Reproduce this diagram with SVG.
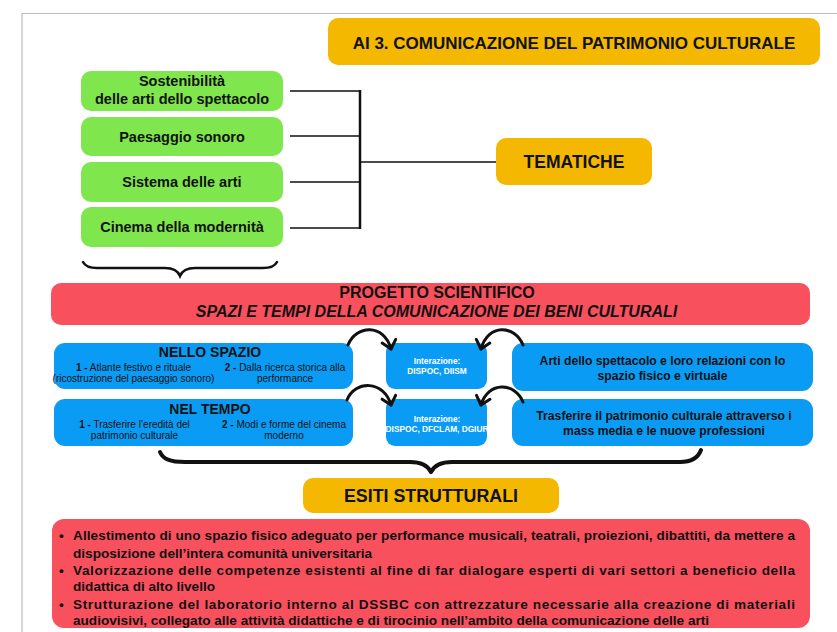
<svg xmlns="http://www.w3.org/2000/svg" width="837" height="632" viewBox="0 0 837 632">
<defs>
<style>
text{font-family:"Liberation Sans",Arial,sans-serif;fill:#111;}
.b{font-weight:bold;}
.org{fill:#F4B800;}
.grn{fill:#80E64E;}
.blu{fill:#0A9CF5;}
.red{fill:#F9505E;}
.ln{stroke:#111;fill:none;}
.arc{stroke:#111;fill:none;stroke-width:3;stroke-linecap:round;marker-end:url(#ah);}
.sm{font-size:10px;}
.wt{fill:#fff;font-weight:bold;font-size:8.3px;}
.bl{font-size:13.6px;font-weight:bold;}
</style>
<marker id="ah" viewBox="-10 -10 20 20" markerWidth="20" markerHeight="20" refX="0" refY="0" orient="auto" markerUnits="userSpaceOnUse">
<path d="M-8,-7 L0,0 L-8,7" fill="none" stroke="#111" stroke-width="3" stroke-linecap="round" stroke-linejoin="round"/>
</marker>
</defs>
<rect width="837" height="632" fill="#fff"/>
<path d="M22,632 L22,13.5 L837,13.5" fill="none" stroke="#bdbdbd" stroke-width="1.2"/>

<g id="title">
<rect class="org" x="328" y="18" width="492" height="47" rx="10"/>
<text class="b" x="574" y="49" font-size="17" text-anchor="middle">AI 3. COMUNICAZIONE DEL PATRIMONIO CULTURALE</text>
</g>

<g id="tema1">
<rect class="grn" x="81" y="71" width="202" height="40" rx="10"/>
<text class="b" x="182" y="86" font-size="14.5" text-anchor="middle">Sostenibilità</text>
<text class="b" x="182" y="104" font-size="14.5" text-anchor="middle">delle arti dello spettacolo</text>
</g>
<g id="tema2">
<rect class="grn" x="81" y="117" width="202" height="39" rx="10"/>
<text class="b" x="182" y="142" font-size="14.5" text-anchor="middle">Paesaggio sonoro</text>
</g>
<g id="tema3">
<rect class="grn" x="81" y="162" width="202" height="40" rx="10"/>
<text class="b" x="182" y="187" font-size="14.5" text-anchor="middle">Sistema delle arti</text>
</g>
<g id="tema4">
<rect class="grn" x="81" y="207" width="202" height="40" rx="10"/>
<text class="b" x="182" y="232" font-size="14.5" text-anchor="middle">Cinema della modernità</text>
</g>

<g id="tematiche">
<rect class="org" x="496" y="138" width="156" height="47" rx="10"/>
<text class="b" x="574" y="168" font-size="17.5" text-anchor="middle">TEMATICHE</text>
</g>

<g id="progetto">
<rect class="red" x="51" y="283" width="759" height="42" rx="10"/>
<text class="b" x="437" y="298" font-size="16" text-anchor="middle">PROGETTO SCIENTIFICO</text>
<text class="b" x="436.5" y="317" font-size="16" font-style="italic" text-anchor="middle">SPAZI E TEMPI DELLA COMUNICAZIONE DEI BENI CULTURALI</text>
</g>

<g id="nello-spazio">
<rect class="blu" x="54" y="343" width="299" height="46" rx="11"/>
<text class="b" x="210" y="357" font-size="14" text-anchor="middle">NELLO SPAZIO</text>
<text class="sm" x="133.5" y="371" text-anchor="middle"><tspan font-weight="bold">1 -</tspan> Atlante festivo e rituale</text>
<text class="sm" x="133.5" y="382" text-anchor="middle">(ricostruzione del paesaggio sonoro)</text>
<text class="sm" x="285" y="371" text-anchor="middle"><tspan font-weight="bold">2 -</tspan> Dalla ricerca storica alla</text>
<text class="sm" x="285" y="382" text-anchor="middle">performance</text>
</g>

<g id="nel-tempo">
<rect class="blu" x="54" y="399" width="299" height="47" rx="11"/>
<text class="b" x="210" y="414" font-size="14" text-anchor="middle">NEL TEMPO</text>
<text class="sm" x="134.5" y="428" text-anchor="middle"><tspan font-weight="bold">1 -</tspan> Trasferire l’eredità del</text>
<text class="sm" x="134.5" y="439" text-anchor="middle">patrimonio culturale</text>
<text class="sm" x="284" y="428" text-anchor="middle"><tspan font-weight="bold">2 -</tspan> Modi e forme del cinema</text>
<text class="sm" x="284" y="439" text-anchor="middle">moderno</text>
</g>

<g id="interazione1">
<rect class="blu" x="386" y="343" width="101" height="46" rx="9"/>
<text class="wt" x="437" y="364" text-anchor="middle">Interazione:</text>
<text class="wt" x="437" y="374" text-anchor="middle">DISPOC, DIISM</text>
</g>
<g id="interazione2">
<rect class="blu" x="386" y="399" width="101" height="47" rx="9"/>
<text class="wt" x="437" y="422" text-anchor="middle">Interazione:</text>
<text class="wt" x="437" y="432" text-anchor="middle">DISPOC, DFCLAM, DGIUR</text>
</g>

<g id="arti-spettacolo">
<rect class="blu" x="512" y="343" width="301" height="48" rx="11"/>
<text class="b" x="662.5" y="365" font-size="12.2" text-anchor="middle">Arti dello spettacolo e loro relazioni con lo</text>
<text class="b" x="662.5" y="380" font-size="12.2" text-anchor="middle">spazio fisico e virtuale</text>
</g>
<g id="trasferire">
<rect class="blu" x="512" y="399" width="301" height="47" rx="11"/>
<text class="b" x="664" y="420" font-size="12.2" text-anchor="middle">Trasferire il patrimonio culturale attraverso i</text>
<text class="b" x="664" y="435" font-size="12.2" text-anchor="middle">mass media e le nuove professioni</text>
</g>

<g id="esiti">
<rect class="org" x="303" y="478" width="256" height="35" rx="10"/>
<text class="b" x="431" y="502" font-size="18" text-anchor="middle" textLength="174" lengthAdjust="spacingAndGlyphs">ESITI STRUTTURALI</text>
</g>

<g id="esiti-elenco">
<rect class="red" x="52" y="519" width="758" height="109" rx="12"/>
<text class="bl" x="59" y="540">•</text>
<text class="bl" x="73" y="540" textLength="722" lengthAdjust="spacing">Allestimento di uno spazio fisico adeguato per performance musicali, teatrali, proiezioni, dibattiti, da mettere a</text>
<text class="bl" x="73" y="558">disposizione dell’intera comunità universitaria</text>
<text class="bl" x="59" y="575">•</text>
<text class="bl" x="73" y="575" textLength="722" lengthAdjust="spacing">Valorizzazione delle competenze esistenti al fine di far dialogare esperti di vari settori a beneficio della</text>
<text class="bl" x="73" y="591">didattica di alto livello</text>
<text class="bl" x="59" y="609">•</text>
<text class="bl" x="73" y="609" textLength="722" lengthAdjust="spacing">Strutturazione del laboratorio interno al DSSBC con attrezzature necessarie alla creazione di materiali</text>
<text class="bl" x="73" y="625">audiovisivi, collegato alle attività didattiche e di tirocinio nell’ambito della comunicazione delle arti</text>
</g>

<g id="connectors">
<path class="ln" stroke-width="1.5" d="M290,91 H360 M290,136 H360 M290,182 H360 M290,228 H360 M360,162 H496"/>
<path class="ln" stroke-width="2.5" d="M360,90 V229"/>
<path class="ln" stroke-width="2.5" stroke-linecap="round" d="M83,262 C85,266 89,268 97,268 L165,268 C174,268 178,271 180,276 C182,271 186,268 195,268 L263,268 C271,268 275,266 277,262"/>
<path class="ln" stroke-width="4" stroke-linecap="round" stroke-linejoin="round" d="M160,452 C163,459 170,462 185,462 L410,462 C422,462 428,466 431,472 C434,466 440,462 452,462 L680,462 C692,462 698,458 701,450"/>
<path class="arc" d="M348,345 C356,325 384,323 391,349"/>
<path class="arc" d="M523,345 C515,325 488,323 481,349"/>
<path class="arc" d="M347,400 C355,380 384,380 391,405"/>
<path class="arc" d="M523,402 C515,382 488,381 481,405"/>
</g>
</svg>
